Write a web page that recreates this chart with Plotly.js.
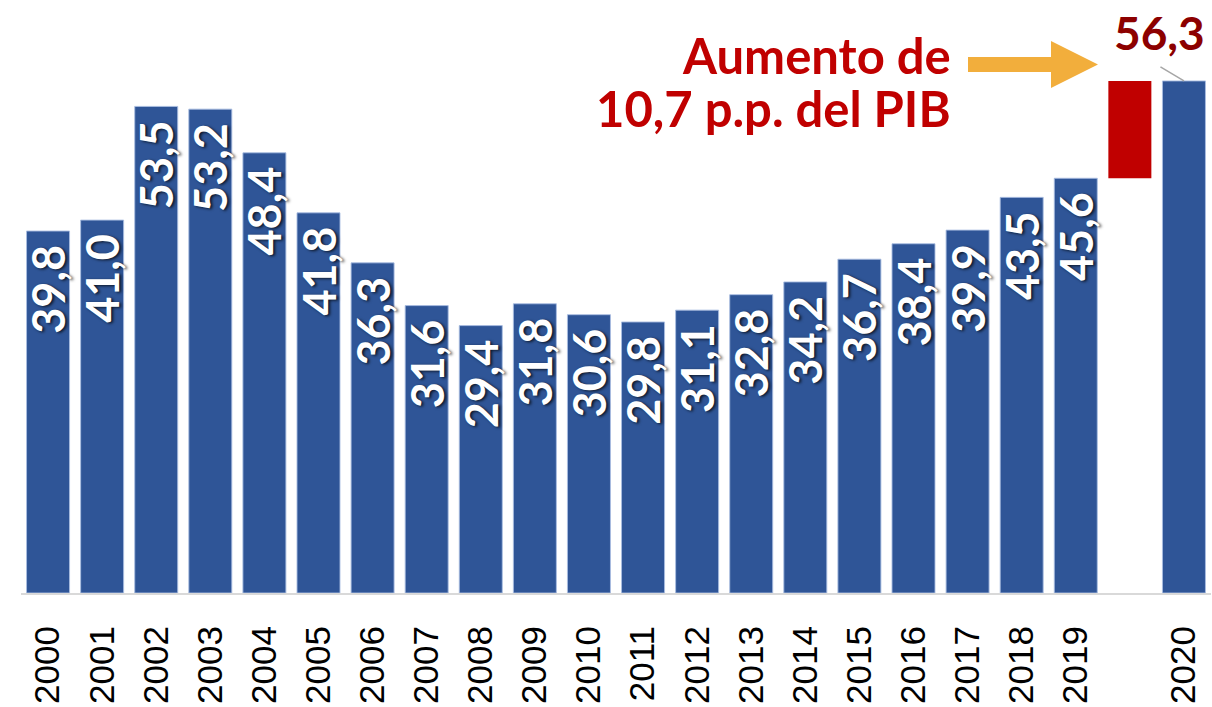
<!DOCTYPE html>
<html>
<head>
<meta charset="utf-8">
<script src="https://cdn.plot.ly/plotly-3.0.1.min.js"></script>
<style>
html,body{margin:0;padding:0;background:#fff;overflow:hidden;}
#chart{width:1212px;height:707px;}
</style>
</head>
<body>
<div id="chart"></div>
<script>
// ---- data ----
const years = ['2000','2001','2002','2003','2004','2005','2006','2007','2008','2009',
               '2010','2011','2012','2013','2014','2015','2016','2017','2018','2019'];
const values = [39.8,41.0,53.5,53.2,48.4,41.8,36.3,31.6,29.4,31.8,
                30.6,29.8,31.1,32.8,34.2,36.7,38.4,39.9,43.5,45.6];
const lastYear = '2020';
const lastValue = 56.3;
const gapCategory = 'gap';
const annotationLines = ['Aumento de', '10,7 p.p. del PIB'];

// ---- derived ----
const fmt = v => v.toFixed(1).replace('.', ',');
const categories = years.concat([gapCategory, lastYear]);
const tickLabels = years.concat(['', lastYear]);
const blueX = years.concat([lastYear]);
const blueY = values.concat([lastValue]);
const blueText = values.map(v => fmt(v) + '\u00a0').concat(['']);
const prevValue = values[values.length - 1];
const increase = +(lastValue - prevValue).toFixed(1);
const lastIndex = categories.indexOf(lastYear);

const W = 1212, H = 707;
const M = {l: 21, r: 1, t: 0, b: 114};
const pw = W - M.l - M.r, ph = H - M.t - M.b;
const px2x = px => (px - M.l) / pw;
const py2y = py => 1 - (py - M.t) / ph;

const traces = [
  {
    type: 'bar',
    x: blueX,
    y: blueY,
    text: blueText,
    textposition: 'inside',
    insidetextanchor: 'end',
    textangle: -90,
    constraintext: 'none',
    cliponaxis: false,
    opacity: 1,
    textfont: {family: 'Lato, "Open Sans", sans-serif', size: 45, color: '#ffffff', weight: 700,
               shadow: '-1px 2px 3px rgba(0,0,0,0.75)'},
    marker: {color: '#2F5597', opacity: 1, line: {color: 'rgba(170,190,225,0.9)', width: 1}},
    hoverinfo: 'skip'
  },
  {
    type: 'bar',
    x: [gapCategory],
    y: [increase],
    base: [prevValue],
    opacity: 1,
    marker: {color: '#C00000', opacity: 1, line: {width: 0}},
    hoverinfo: 'skip'
  }
];

// orange arrow (decoration) in pixel terms converted to paper
const arrowPts = [[968,57],[1051,57],[1051,41],[1098,64.5],[1051,88],[1051,72],[968,72]];
const arrowPath = 'M ' + arrowPts.map(p => px2x(p[0]).toFixed(5) + ',' + py2y(p[1]).toFixed(5)).join(' L ') + ' Z';

const layout = {
  width: W, height: H,
  margin: M,
  paper_bgcolor: '#ffffff',
  plot_bgcolor: '#ffffff',
  showlegend: false,
  barmode: 'overlay',
  bargap: 0.205,
  xaxis: {
    type: 'category',
    categoryorder: 'array',
    categoryarray: categories,
    range: [-0.5, categories.length - 0.5],
    tickmode: 'array',
    tickvals: categories,
    ticktext: tickLabels,
    tickangle: -90,
    tickfont: {family: '"Liberation Sans", Arial, sans-serif', size: 35, color: '#000000'},
    ticks: '',
    ticklabelstandoff: 17,
    showline: true,
    linecolor: '#d9d9d9',
    linewidth: 2,
    showgrid: false,
    zeroline: false,
    fixedrange: true
  },
  yaxis: {
    range: [0, 65.2],
    visible: false,
    showgrid: false,
    zeroline: false,
    fixedrange: true
  },
  shapes: [
    {type: 'path', xref: 'paper', yref: 'paper', path: arrowPath,
     fillcolor: '#F2AE3C', line: {width: 0}}
  ],
  annotations: [
    {x: lastIndex, y: lastValue, xref: 'x', yref: 'y', text: '',
     showarrow: true, arrowhead: 0, arrowwidth: 1.5, arrowcolor: '#a6a6a6',
     ax: -25, ay: -15, standoff: 0},
    {x: lastIndex, y: lastValue, xref: 'x', yref: 'y', text: fmt(lastValue),
     showarrow: false, xshift: -24, yshift: 48, xanchor: 'center', yanchor: 'middle',
     font: {family: 'Lato, "Open Sans", sans-serif', size: 46, color: '#8C0000', weight: 700}},
    {x: px2x(953), y: py2y(55), xref: 'paper', yref: 'paper', text: annotationLines[0],
     showarrow: false, xanchor: 'right', yanchor: 'middle',
     font: {family: 'Lato, "Open Sans", sans-serif', size: 49, color: '#C00000', weight: 700}},
    {x: px2x(953), y: py2y(108), xref: 'paper', yref: 'paper', text: annotationLines[1],
     showarrow: false, xanchor: 'right', yanchor: 'middle',
     font: {family: 'Lato, "Open Sans", sans-serif', size: 49, color: '#C00000', weight: 700}}
  ]
};

Plotly.newPlot('chart', traces, layout, {displayModeBar: false, staticPlot: true});
</script>
</body>
</html>
